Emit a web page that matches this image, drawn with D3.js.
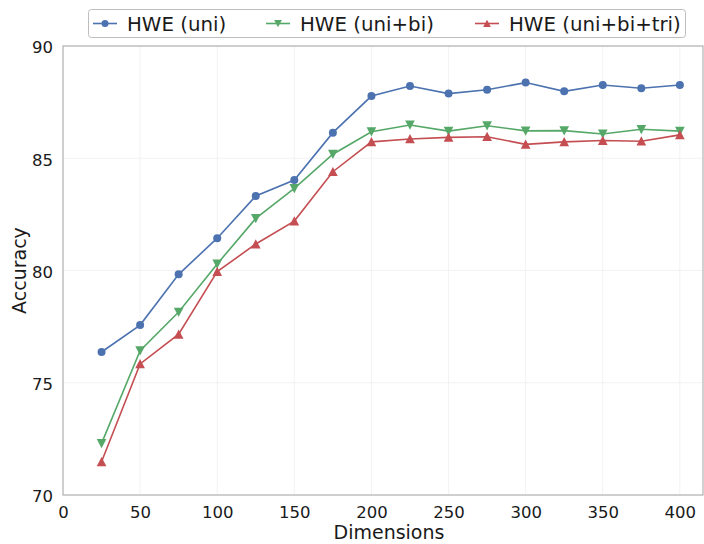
<!DOCTYPE html>
<html><head><meta charset="utf-8">
<script src="https://cdn.jsdelivr.net/npm/d3@7"></script>
<style>body{margin:0;background:#fff}svg{display:block}text{font-family:"DejaVu Sans",sans-serif}</style>
</head><body><svg id="c" width="704" height="544"></svg>
<script>
const dims = [25,50,75,100,125,150,175,200,225,250,275,300,325,350,375,400];
const uni = [76.37,77.57,79.83,81.44,83.32,84.03,86.14,87.77,88.22,87.88,88.05,88.37,87.98,88.26,88.12,88.26];
const uniBi = [72.30,76.43,78.15,80.29,82.32,83.66,85.18,86.18,86.48,86.21,86.45,86.22,86.23,86.08,86.29,86.21];
const uniBiTri = [71.48,75.84,77.16,79.95,81.18,82.20,84.40,85.73,85.86,85.93,85.96,85.62,85.73,85.79,85.76,86.04];
const seriesNames = ["HWE (uni)","HWE (uni+bi)","HWE (uni+bi+tri)"];
const xTicks = [0,50,100,150,200,250,300,350,400];
const yTicks = [70,75,80,85,90];

const colors = ["#4C72B0","#55A868","#C44E52"];
const symbols = ["circle","tdown","tup"];
const svg = d3.select("#c");
const L=63,R=703,T=46,B=495;
const x = d3.scaleLinear().domain([0,415]).range([L,R]);
const y = d3.scaleLinear().domain([70,90]).range([B,T]);

// grid
svg.append("g").selectAll("line").data(xTicks).join("line")
  .attr("x1",d=>x(d)).attr("x2",d=>x(d)).attr("y1",T).attr("y2",B)
  .attr("stroke","#efefef").attr("stroke-width",0.8);
svg.append("g").selectAll("line").data(yTicks).join("line")
  .attr("y1",d=>y(d)).attr("y2",d=>y(d)).attr("x1",L).attr("x2",R)
  .attr("stroke","#efefef").attr("stroke-width",0.8);

// axes
const xa = svg.append("g").attr("transform",`translate(0,${B})`)
  .call(d3.axisBottom(x).tickValues(xTicks).tickSize(0).tickPadding(11));
const ya = svg.append("g").attr("transform",`translate(${L},0)`)
  .call(d3.axisLeft(y).tickValues(yTicks).tickSize(0).tickPadding(10));
[xa,ya].forEach(a=>{a.select(".domain").remove();a.selectAll("text").attr("font-size",16.5).attr("fill","#1a1a1a").attr("font-family","DejaVu Sans");});
ya.selectAll("text").attr("dy","0.42em");
// frame
svg.append("rect").attr("x",L).attr("y",T).attr("width",R-L).attr("height",B-T)
  .attr("fill","none").attr("stroke","#b3b3b3").attr("stroke-width",1.2);

svg.append("text").attr("x",(L+R)/2+6).attr("y",539).attr("text-anchor","middle")
  .attr("font-size",19).attr("fill","#1a1a1a").text("Dimensions");
svg.append("text").attr("transform",`translate(26,${(T+B)/2}) rotate(-90)`).attr("text-anchor","middle")
  .attr("font-size",19).attr("fill","#1a1a1a").text("Accuracy");

function marker(g,type,cx,cy,col,s){
  if(type==="circle") g.append("circle").attr("cx",cx).attr("cy",cy).attr("r",s).attr("fill",col);
  else {
    const d = type==="tup"? [[0,-s*1.1],[-s*1.1,s*1.0],[s*1.1,s*1.0]] : [[0,s*1.1],[-s*1.1,-s*1.0],[s*1.1,-s*1.0]];
    g.append("path").attr("d","M"+d.map(p=>[cx+p[0],cy+p[1]].join(",")).join("L")+"Z").attr("fill",col);
  }
}
const data=[uni,uniBi,uniBiTri];
const line=d3.line().x((d,i)=>x(dims[i])).y(d=>y(d));
data.forEach((vals,k)=>{
  const g=svg.append("g");
  g.append("path").datum(vals).attr("d",line).attr("fill","none").attr("stroke",colors[k]).attr("stroke-width",1.6);
  vals.forEach((v,i)=>marker(g,symbols[k],x(dims[i]),y(v),colors[k],k===0?4:4.4));
});

// legend
const lg=svg.append("g");
lg.append("rect").attr("x",88.5).attr("y",9.5).attr("width",597).attr("height",28).attr("rx",3)
  .attr("fill","#fff").attr("stroke","#bdbdbd").attr("stroke-width",1);
const lx=[93,266,475];
seriesNames.forEach((n,k)=>{
  lg.append("line").attr("x1",lx[k]).attr("x2",lx[k]+24).attr("y1",23.5).attr("y2",23.5).attr("stroke",colors[k]).attr("stroke-width",1.6);
  marker(lg,symbols[k],lx[k]+12,23.5,colors[k],3.5);
  lg.append("text").attr("x",lx[k]+34).attr("y",30.5).attr("font-size",19.8).attr("fill","#1a1a1a").text(n);
});
</script></body></html>
